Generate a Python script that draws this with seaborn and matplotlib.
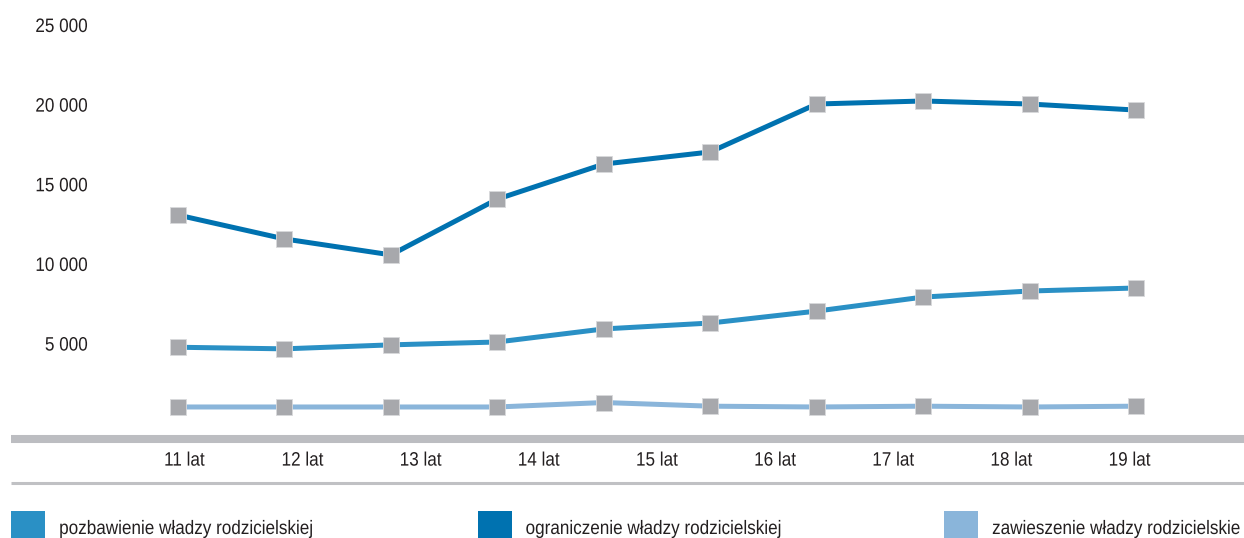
import matplotlib
matplotlib.use("Agg")
import matplotlib.pyplot as plt
from matplotlib.lines import Line2D
from matplotlib.patches import Rectangle
from matplotlib.patheffects import AbstractPathEffect
from matplotlib.transforms import Affine2D
import seaborn as sns
import pandas as pd
import numpy as np

# ---- data ----
x_labels = ["11 lat", "12 lat", "13 lat", "14 lat", "15 lat", "16 lat", "17 lat", "18 lat", "19 lat"]
points = list(range(10))
pozbawienie = [4800, 4700, 4950, 5130, 5950, 6320, 7070, 7950, 8330, 8520]
ograniczenie = [13100, 11600, 10600, 14100, 16300, 17060, 20070, 20260, 20070, 19690]
zawieszenie = [1050, 1050, 1050, 1050, 1330, 1100, 1050, 1100, 1050, 1100]
series_names = ["pozbawienie władzy rodzicielskiej",
                "ograniczenie władzy rodzicielskiej",
                "zawieszenie władzy rodzicielskie"]
series_values = [pozbawienie, ograniczenie, zawieszenie]
series_colors = ["#2a90c5", "#0072b0", "#8ab5da"]
y_ticks = [5000, 10000, 15000, 20000, 25000]
y_labels = ["5 000", "10 000", "15 000", "20 000", "25 000"]


class Condense(AbstractPathEffect):
    """Draw text horizontally condensed (like a condensed typeface)."""
    def __init__(self, sx=0.88, anchor="left"):
        super().__init__()
        self.sx, self.anchor = sx, anchor

    def draw_path(self, renderer, gc, tpath, affine, rgbFace=None):
        ext = tpath.get_extents(affine)
        x0 = {"left": ext.x0, "right": ext.x1, "center": 0.5 * (ext.x0 + ext.x1)}[self.anchor]
        aff = affine + Affine2D().translate(-x0, 0).scale(self.sx, 1).translate(x0, 0)
        renderer.draw_path(gc, tpath, aff, rgbFace)


sns.set_theme(style="white")
plt.rcParams["font.family"] = ["Liberation Sans", "DejaVu Sans"]
TXT = "#231f20"
FS = 14
SX = 0.88

W, H = 1244, 538
fig = plt.figure(figsize=(W / 100, H / 100), dpi=100)
ax_left, ax_bottom_px = 100, 439
ax = fig.add_axes([ax_left / W, (H - ax_bottom_px) / H, (W - ax_left) / W, ax_bottom_px / H])

df = pd.DataFrame({"x": points * 3,
                   "v": pozbawienie + ograniczenie + zawieszenie,
                   "s": sum([[n] * len(points) for n in series_names], [])})

for name, col in zip(series_names, series_colors):
    sns.lineplot(data=df[df.s == name], x="x", y="v", color=col, linewidth=3.6,
                 marker="s", markersize=12, markerfacecolor="#a7a8ac",
                 markeredgecolor="#d9d9db", markeredgewidth=0.6, ax=ax, legend=False)

spacing = 106.4
ax.set_xlim(-(178 - ax_left) / spacing, 9 + (W - 1136) / spacing)
ax.set_ylim(-960, 26600)
for s in ax.spines.values():
    s.set_visible(False)
ax.set_xlabel("")
ax.set_ylabel("")
ax.set_yticks(y_ticks)
ylabs = ax.set_yticklabels(y_labels, fontsize=FS, color=TXT)
ax.set_xticks([0.06 + 1.11 * i for i in range(len(x_labels))])
xlabs = ax.set_xticklabels(x_labels, fontsize=FS, color=TXT)
ax.tick_params(axis="y", length=0, pad=8.6)
ax.tick_params(axis="x", length=0, pad=9.8)
ax.grid(False)
for t in ylabs:
    t.set_path_effects([Condense(SX, "right")])
for t in xlabs:
    t.set_path_effects([Condense(SX, "center")])

# baseline (thick) and separator (thin)
fig.add_artist(Line2D([11 / W, 1], [(H - 439) / H] * 2, color="#bcbdc1", linewidth=5.8,
                      solid_capstyle="butt", transform=fig.transFigure))
fig.add_artist(Line2D([11 / W, 1], [(H - 482.5) / H] * 2, color="#c0c1c4", linewidth=2.2,
                      solid_capstyle="butt", transform=fig.transFigure))

# legend
for i, (name, col) in enumerate(zip(series_names, series_colors)):
    x0 = 11 + 466.5 * i
    fig.add_artist(Rectangle((x0 / W, -10 / H), 34 / W, (27 + 10) / H, color=col,
                             transform=fig.transFigure, linewidth=0))
    t = fig.text((x0 + 48) / W, (H - 534) / H, name, fontsize=FS, color=TXT,
                 ha="left", va="baseline")
    t.set_path_effects([Condense(SX, "left")])

fig.savefig("out.png", dpi=100)
